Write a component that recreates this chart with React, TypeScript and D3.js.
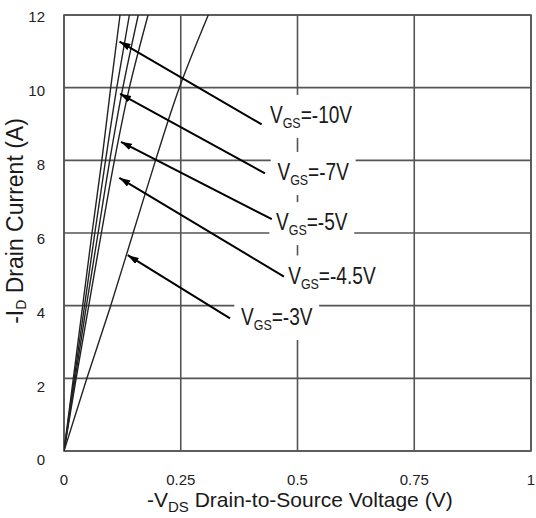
import React, { useEffect, useRef } from "react";
import * as d3 from "d3";

// ---- data ----
const xTicks = [0, 0.25, 0.5, 0.75, 1];
const xTickLabels = ["0", "0.25", "0.5", "0.75", "1"];
const yTicks = [0, 2, 4, 6, 8, 10, 12];
const yTickLabels = ["0", "2", "4", "6", "8", "10", "12"];

// [-VDS (V), -ID (A)]
const curveVgs10: [number, number][] = [[0, 0], [0.02, 2], [0.04, 4], [0.06, 6], [0.081, 8], [0.1, 10], [0.12, 12]];
const curveVgs7: [number, number][] = [[0, 0], [0.022, 2], [0.044, 4], [0.066, 6], [0.089, 8], [0.113, 10], [0.14, 12]];
const curveVgs5: [number, number][] = [[0, 0], [0.024, 2], [0.048, 4], [0.073, 6], [0.098, 8], [0.126, 10], [0.159, 12]];
const curveVgs45: [number, number][] = [[0, 0], [0.026, 2], [0.053, 4], [0.08, 6], [0.108, 8], [0.14, 10], [0.18, 12]];
const curveVgs3: [number, number][] = [[0, 0], [0.049, 2], [0.1, 4], [0.148, 6], [0.196, 8], [0.247, 10], [0.309, 12]];
const curves = [curveVgs10, curveVgs7, curveVgs5, curveVgs45, curveVgs3];

const vgsValues = ["-10V", "-7V", "-5V", "-4.5V", "-3V"];
const arrowTipV = [0.119, 0.12, 0.122, 0.1185, 0.1364];
const arrowTipI = [11.27, 9.83, 8.51, 7.52, 5.39];
const arrowTailV = [0.4233, 0.4304, 0.445, 0.471, 0.3555];
const arrowTailI = [8.99, 7.64, 6.38, 4.8, 3.65];
const labelV = [0.441, 0.457, 0.454, 0.48, 0.379];
const labelI = [9.03, 7.46, 6.08, 4.61, 3.47];

const W = 536;
const H = 518;
const FONT = "'Liberation Sans', Arial, sans-serif";

export default function App() {
  const ref = useRef<SVGSVGElement>(null);

  useEffect(() => {
    const svg = d3.select(ref.current);
    svg.selectAll("*").remove();

    const x = d3.scaleLinear().domain([0, 1]).range([64, 531]);
    const y = d3.scaleLinear().domain([0, 12]).range([451, 15]);
    const yLab = d3.scaleLinear().domain([0, 12]).range([460, 17]);

    const defs = svg.append("defs");
    defs
      .append("marker")
      .attr("id", "ah")
      .attr("markerUnits", "userSpaceOnUse")
      .attr("markerWidth", 12)
      .attr("markerHeight", 8)
      .attr("refX", 11)
      .attr("refY", 3.5)
      .attr("orient", "auto")
      .append("path")
      .attr("d", "M0,0 L11,3.5 L0,7 Z")
      .attr("fill", "#000");

    const gridColor = "#555";
    const grid = svg.append("g");
    grid
      .selectAll("line.v")
      .data(xTicks)
      .join("line")
      .attr("x1", (d) => x(d))
      .attr("x2", (d) => x(d))
      .attr("y1", y(0))
      .attr("y2", y(12))
      .attr("stroke", gridColor)
      .attr("stroke-width", 1.6);
    grid
      .selectAll("line.h")
      .data(yTicks)
      .join("line")
      .attr("x1", x(0))
      .attr("x2", x(1))
      .attr("y1", (d) => y(d))
      .attr("y2", (d) => y(d))
      .attr("stroke", gridColor)
      .attr("stroke-width", 1.6);

    // annotation labels with white boxes
    const labs = svg.append("g");
    vgsValues.forEach((v, i) => {
      const g = labs
        .append("g")
        .attr("transform", `translate(${x(labelV[i])},${y(labelI[i])}) scale(0.83,1)`);
      const rect = g.append("rect").attr("fill", "#fff");
      const t = g
        .append("text")
        .attr("font-family", FONT)
        .attr("font-size", 23)
        .attr("fill", "#1a1a1a");
      t.append("tspan").text("V");
      t.append("tspan").attr("font-size", 15).attr("dy", 5).text("GS");
      t.append("tspan").attr("dy", -5).text("=" + v);
      const bb = (t.node() as SVGTextElement).getBBox();
      rect
        .attr("x", bb.x - 8)
        .attr("width", bb.width + 16)
        .attr("y", -28)
        .attr("height", 43);
    });

    // frame on top of boxes
    svg
      .append("rect")
      .attr("x", x(0))
      .attr("y", y(12))
      .attr("width", x(1) - x(0))
      .attr("height", y(0) - y(12))
      .attr("fill", "none")
      .attr("stroke", gridColor)
      .attr("stroke-width", 1.6);

    // curves
    const clipId = "plotclip";
    defs
      .append("clipPath")
      .attr("id", clipId)
      .append("rect")
      .attr("x", x(0))
      .attr("y", y(12))
      .attr("width", x(1) - x(0))
      .attr("height", y(0) - y(12));
    const line = d3
      .line<[number, number]>()
      .x((d) => x(d[0]))
      .y((d) => y(d[1]))
      .curve(d3.curveMonotoneY);
    svg
      .append("g")
      .attr("clip-path", `url(#${clipId})`)
      .selectAll("path")
      .data(curves)
      .join("path")
      .attr("d", (d) => line(d))
      .attr("fill", "none")
      .attr("stroke", "#222")
      .attr("stroke-width", 1.4);

    // arrows
    svg
      .append("g")
      .selectAll("line")
      .data(vgsValues.map((_, i) => i))
      .join("line")
      .attr("x1", (i) => x(arrowTailV[i]))
      .attr("y1", (i) => y(arrowTailI[i]))
      .attr("x2", (i) => x(arrowTipV[i]))
      .attr("y2", (i) => y(arrowTipI[i]))
      .attr("stroke", "#000")
      .attr("stroke-width", 2)
      .attr("marker-end", "url(#ah)");

    // tick labels
    svg
      .append("g")
      .selectAll("text")
      .data(xTicks)
      .join("text")
      .attr("x", (d) => x(d))
      .attr("y", 485)
      .attr("text-anchor", "middle")
      .attr("font-family", FONT)
      .attr("font-size", 15)
      .attr("fill", "#222")
      .text((_, i) => xTickLabels[i]);
    svg
      .append("g")
      .selectAll("text")
      .data(yTicks)
      .join("text")
      .attr("x", 45)
      .attr("y", (d) => yLab(d))
      .attr("dy", "0.36em")
      .attr("text-anchor", "end")
      .attr("font-family", FONT)
      .attr("font-size", 15)
      .attr("fill", "#222")
      .text((_, i) => yTickLabels[i]);

    // x title
    const xt = svg
      .append("g")
      .attr("transform", `translate(147,507)`)
      .append("text")
      .attr("font-family", FONT)
      .attr("font-size", 21)
      .attr("fill", "#1a1a1a");
    xt.append("tspan").text("-V");
    xt.append("tspan").attr("font-size", 15).attr("dy", 5).text("DS");
    xt.append("tspan").attr("dy", -5).text(" Drain-to-Source Voltage (V)");

    // y title
    const yt = svg
      .append("g")
      .attr("transform", `translate(23,221) rotate(-90)`)
      .append("text")
      .attr("text-anchor", "middle")
      .attr("font-family", FONT)
      .attr("font-size", 23)
      .attr("fill", "#1a1a1a");
    yt.append("tspan").text("-I");
    yt.append("tspan").attr("font-size", 14).attr("dy", 3).text("D");
    yt.append("tspan").attr("dy", -3).text(" Drain Current (A)");
  }, []);

  return (
    <svg
      ref={ref}
      width={W}
      height={H}
      style={{ position: "absolute", left: 0, top: 0, background: "#fff" }}
    />
  );
}
